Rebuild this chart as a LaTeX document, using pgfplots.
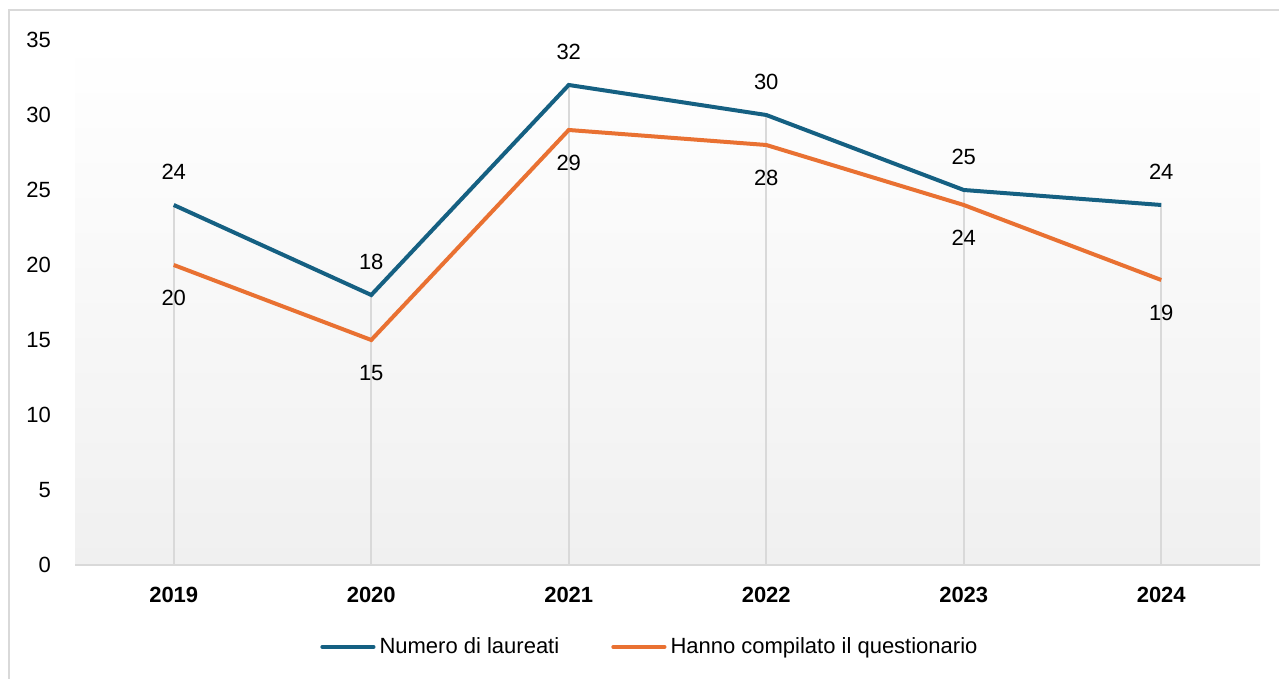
\documentclass[border=0pt]{standalone}
\usepackage{fontspec}
\setmainfont{Liberation Sans}
\usepackage{pgfplots}
\pgfplotsset{compat=1.18}
\definecolor{numblue}{HTML}{156082}
\definecolor{comporange}{HTML}{E97132}
\definecolor{framegray}{HTML}{D9D9D9}
\definecolor{bggray}{HTML}{F0F0F0}
\newcommand{\lblfont}{\fontsize{11}{13}\selectfont}

\begin{document}
\begin{tikzpicture}
\useasboundingbox (0,0) rectangle (639.5pt,339.5pt);
\draw[framegray, line width=1pt] (4.5pt,0) -- (4.5pt,334.5pt) -- (639.5pt,334.5pt);
\begin{axis}[at={(37.5pt,57pt)}, anchor=south west,
  width=592.5pt, height=262.5pt, scale only axis,
  xmin=-0.5, xmax=5.5, ymin=0, ymax=35,
  xtick={0,1,2,3,4,5}, xticklabels={2019,2020,2021,2022,2023,2024},
  ytick={0,5,10,15,20,25,30,35},
  axis x line*=bottom, axis y line*=left,
  x axis line style={framegray, line width=0.75pt, -},
  y axis line style={draw=none},
  major tick length=0pt, tick style={draw=none},
  /pgf/number format/assume math mode=true,
  yticklabel style={font=\lblfont, anchor=east, xshift=-8.5pt},
  xticklabel style={font=\lblfont\bfseries, anchor=center, yshift=-14.75pt},
  axis background/.style={top color=white, bottom color=bggray},
  clip=false,
  legend columns=2,
  legend style={at={(0.486,-0.156)}, anchor=center, draw=none, fill=none,
    font=\lblfont, nodes={inner xsep=2pt},
    /tikz/every even column/.append style={column sep=24pt}},
  legend image code/.code={\draw[#1, line cap=round] (0cm,0cm) -- (0.9cm,0cm);},
]
% drop lines
\addplot[framegray, line width=0.8pt, ycomb, forget plot]
  coordinates {(0,24) (1,18) (2,32) (3,30) (4,25) (5,24)};
\addplot[numblue, line width=2pt, nodes near coords,
  every node near coord/.append style={font=\lblfont, text=black, anchor=center, yshift=16.5pt}]
  coordinates {(0,24) (1,18) (2,32) (3,30) (4,25) (5,24)};
\addlegendentry{Numero di laureati}
\addplot[comporange, line width=2pt, nodes near coords,
  every node near coord/.append style={font=\lblfont, text=black, anchor=center, yshift=-16.5pt}]
  coordinates {(0,20) (1,15) (2,29) (3,28) (4,24) (5,19)};
\addlegendentry{Hanno compilato il questionario}
\end{axis}
\end{tikzpicture}
\end{document}
